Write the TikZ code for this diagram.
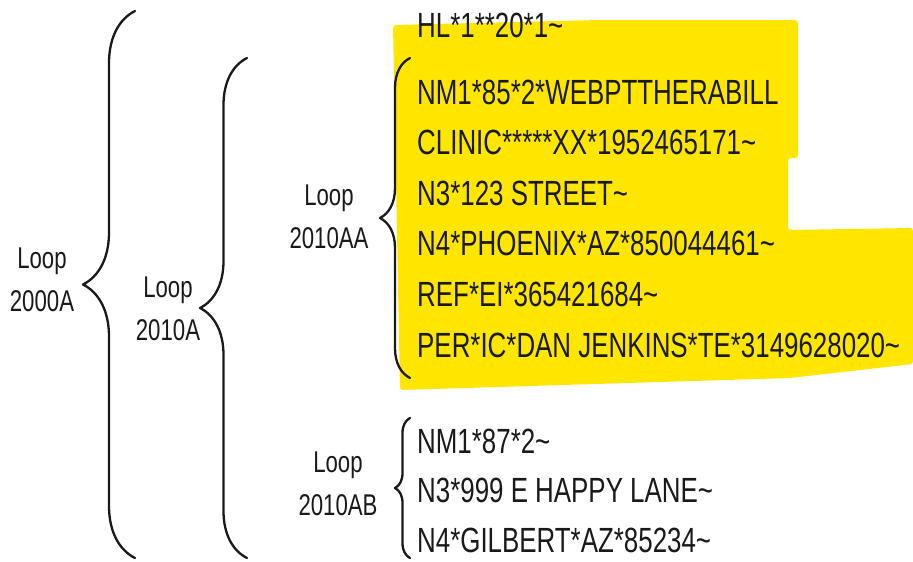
\documentclass[tikz,border=0pt]{standalone}
\usepackage{fontspec}
\setmainfont{Liberation Sans}[FakeStretch=0.74]
\usepackage{xcolor}
\usetikzlibrary{decorations.pathreplacing, positioning}
\definecolor{hilite}{RGB}{255,230,0}
\definecolor{ink}{RGB}{25,25,25}
\newcommand{\tld}{\char`\~}

\begin{document}
\begin{tikzpicture}[x=1pt, y=-1pt,
    loopbrace/.style={decorate, decoration={brace, amplitude=#1}, draw=ink,
        line width=2.3pt, line cap=round, line join=round},
    seg/.style={anchor=base west, inner sep=0pt, text=ink,
        font=\fontsize{35}{50}\selectfont},
    looplabel/.style={anchor=north, inner sep=0pt, align=center, text=ink,
        font=\fontsize{30}{43}\selectfont}]

    \useasboundingbox (0,0) rectangle (913,562);

    % --- Highlighter mark behind loop 2010AA ---
    \fill[hilite, rounded corners=3pt] (393,25) -- (600,20) -- (798,20) -- (798,158)
        -- (788,158) -- (788,230) -- (913,228) -- (913,364) -- (790,378)
        -- (400,390) -- cycle;

    % --- Segments ---
    % HL header
    \node[seg] (hl) at (417,37) {HL*1**20*1\tld};

    % Loop 2010AA
    \foreach \txt [count=\i] in {NM1*85*2*WEBPTTHERABILL,
        CLINIC*****XX*1952465171\tld, N3*123 STREET\tld,
        N4*PHOENIX*AZ*850044461\tld, REF*EI*365421684\tld,
        PER*IC*DAN JENKINS*TE*3149628020\tld}
        \node[seg] (aa\i) at (417, {104+50.6*(\i-1)}) {\txt};

    % Loop 2010AB
    \foreach \txt [count=\i] in {NM1*87*2\tld, N3*999 E HAPPY LANE\tld,
        N4*GILBERT*AZ*85234\tld}
        \node[seg] (ab\i) at (417, {453+49.5*(\i-1)}) {\txt};

    % --- Braces ---
    \coordinate (b2000top) at (135,11);
    \coordinate (b2000bot) at (135,558);
    \draw[loopbrace=52pt] (b2000bot) -- (b2000top);

    \coordinate (b2010top) at (247,58);
    \coordinate (b2010bot) at (247,558);
    \draw[loopbrace=47pt] (b2010bot) -- (b2010top);

    \coordinate (bAAtop) at (410,58);
    \coordinate (bAAbot) at (410,378);
    \draw[loopbrace=30pt] (bAAbot) -- (bAAtop);

    \coordinate (bABtop) at (410,418);
    \coordinate (bABbot) at (410,558);
    \draw[loopbrace=15pt] (bABbot) -- (bABtop);

    % --- Loop labels ---
    \node[looplabel] (l2000) at (42,248) {Loop\\2000A};
    \node[looplabel] (l2010) at (168,277) {Loop\\2010A};
    \node[looplabel] (l2010aa) at (329,185) {Loop\\2010AA};
    \node[looplabel] (l2010ab) at (338,452) {Loop\\2010AB};

\end{tikzpicture}
\end{document}
